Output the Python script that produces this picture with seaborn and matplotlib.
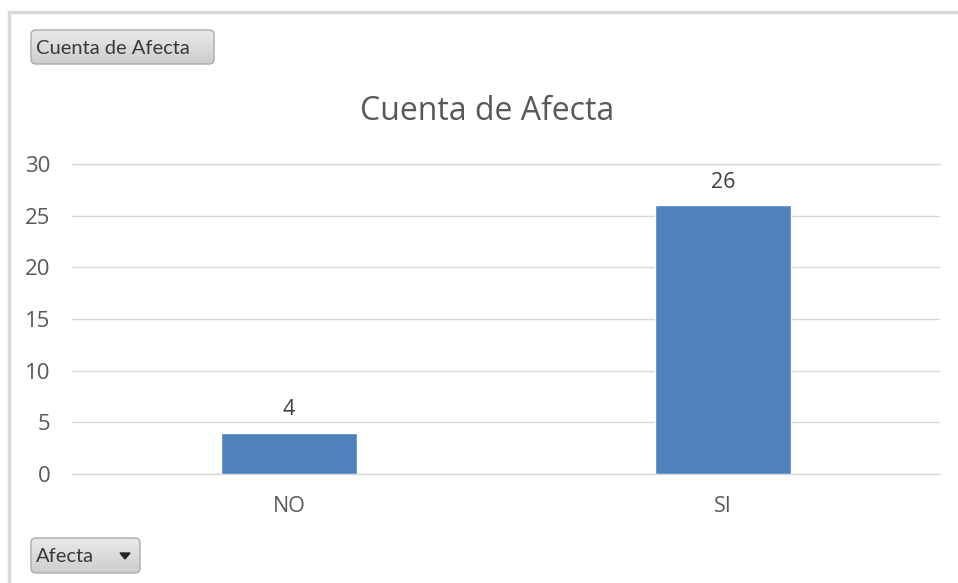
import matplotlib
matplotlib.use("Agg")
import matplotlib.pyplot as plt
import seaborn as sns
import pandas as pd
import numpy as np
from matplotlib.patches import FancyBboxPatch, Rectangle

categories = ["NO", "SI"]
values = [4, 26]
title = "Cuenta de Afecta"
yticks = [0, 5, 10, 15, 20, 25, 30]

sns.set_theme(style="white")
plt.rcParams['font.family'] = ['Open Sans', 'DejaVu Sans']

W, H = 958, 583
fig = plt.figure(figsize=(W / 100, H / 100), dpi=100)
fig.patch.set_facecolor("white")

def fx(px):
    return px / W

def fy(py):
    return 1 - py / H

# outer border
fig.patches.append(Rectangle((fx(8.5), fy(H + 5)), fx(W), fy(11.5) - fy(H + 5),
                             transform=fig.transFigure, fill=False,
                             edgecolor="#D9D9D9", linewidth=2.5))

ax = fig.add_axes([fx(72), fy(474), fx(940) - fx(72), fy(164) - fy(474)])
df = pd.DataFrame({"cat": categories, "val": values})
sns.barplot(data=df, x="cat", y="val", color="#4F81BD", saturation=1,
            width=0.313, ax=ax, zorder=3)
ax.set_xlim(-0.5, 1.5)
ax.set_ylim(0, 30)
ax.set_yticks(yticks)
ax.set_yticklabels([str(t) for t in yticks])
ax.set_xlabel("")
ax.set_ylabel("")
for s in ax.spines.values():
    s.set_visible(False)
ax.grid(axis="y", color="#D9D9D9", linewidth=1, zorder=0)
ax.axhline(0, color="#D9D9D9", linewidth=1, zorder=1, clip_on=False)
ax.axhline(30, color="#D9D9D9", linewidth=1, zorder=1, clip_on=False)
ax.set_axisbelow(True)
ax.tick_params(axis="y", length=0, pad=15.5, labelsize=16, labelcolor="#595959")
ax.tick_params(axis="x", length=0, pad=16, labelsize=15.5, labelcolor="#595959")
for lbl in ax.get_yticklabels():
    lbl.set_horizontalalignment("right")
for c in ax.containers:
    ax.bar_label(c, labels=[str(v) for v in values], padding=9,
                 fontsize=15.5, color="#404040")

fig.text(fx(487), fy(112), title, ha="center", va="center",
         fontsize=23, color="#595959")

def button(x0, y0, x1, y1, text, arrow=False):
    w, h = x1 - x0, y1 - y0
    gax = fig.add_axes([fx(x0), fy(y1), fx(x1) - fx(x0), fy(y0) - fy(y1)])
    gax.set_axis_off()
    gax.set_xlim(0, w)
    gax.set_ylim(0, h)
    grad = np.linspace(0.0, 1.0, 64).reshape(-1, 1)
    top = np.array([0.92, 0.92, 0.92])
    bot = np.array([0.80, 0.80, 0.80])
    img = top[None, None, :] * (1 - grad[:, :, None]) + bot[None, None, :] * grad[:, :, None]
    im = gax.imshow(img, extent=[0, w, 0, h], aspect="auto", origin="upper")
    patch = FancyBboxPatch((1, 1), w - 2, h - 2,
                           boxstyle="round,pad=0,rounding_size=5",
                           facecolor="none", edgecolor="#ABABAB", linewidth=1.0)
    gax.add_patch(patch)
    im.set_clip_path(patch)
    gax.set_xlim(0, w)
    gax.set_ylim(0, h)
    fig.text(fx(x0 + 6), fy((y0 + y1) / 2 + 1), text, ha="left", va="center",
             fontsize=14.5, color="#3A3A3A", family=["Lato", "DejaVu Sans"])
    if arrow:
        gax.fill([w - 21, w - 11, w - 16], [h - 16, h - 16, h - 22],
                 color="#262626")

button(30, 29, 215, 65, "Cuenta de Afecta")
button(30, 537, 141, 574, "Afecta", arrow=True)

fig.savefig("out.png", dpi=100, facecolor="white")
